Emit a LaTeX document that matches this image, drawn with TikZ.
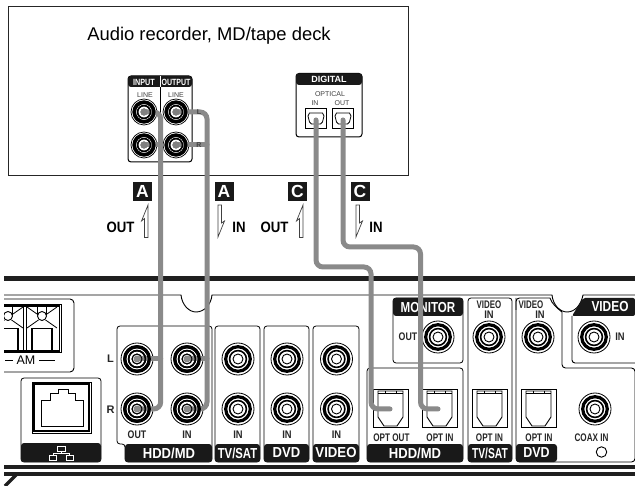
\documentclass[tikz,border=0pt]{standalone}
\usepackage{fontspec}
\setmainfont{Liberation Sans}
\definecolor{cablegrey}{HTML}{8A8A8A}
\tikzset{
  panel/.style={draw=black,line width=0.8pt,rounded corners=3pt,fill=white},
  hdr/.style={fill=black!90,draw=none},
  cable/.style={draw=cablegrey,line width=5pt,rounded corners=7pt,line cap=round},
  stub/.style={draw=cablegrey,line width=5pt,line cap=round},
  lbl/.style={font=\bfseries\fontsize{11}{11}\selectfont,inner sep=0pt,text=black!85},
  hlbl/.style={font=\bfseries\fontsize{14.5}{14.5}\selectfont,inner sep=0pt,text=white},
  tag/.style={fill=black!90,text=white,font=\bfseries\fontsize{17.5}{17.5}\selectfont,minimum width=19pt,minimum height=19pt,inner sep=0pt},
  big/.style={font=\bfseries\fontsize{15}{15}\selectfont,inner sep=0pt},
  dir/.style={draw=black!75,line width=0.7pt,fill=white,line join=miter},
  grey/.style={font=\fontsize{7}{7}\selectfont,inner sep=0pt,text=black!75},
  smh/.style={font=\bfseries\fontsize{9}{9}\selectfont,text=white,inner sep=0pt},
  thin/.style={draw=black,line width=0.9pt}
}
\newcommand{\jack}[2]{%
  \coordinate (#1) at (#2);
  \draw[fill=white,line width=0.8pt] (#1) circle (16);
  \draw[line width=3.2pt,fill=white] (#1) circle (12.3);
  \draw[line width=1.6pt,fill=white] (#1) circle (8.4);
  \draw[line width=0.9pt,fill=white] (#1) circle (5);
}
\newcommand{\jackrings}[1]{%
  \draw[line width=3.2pt] (#1) circle (12.3);
  \draw[line width=1.6pt] (#1) circle (8.4);
  \draw[line width=0.9pt] (#1) circle (5);
  \fill[cablegrey] (#1) circle (3.5);
}
\newcommand{\smjack}[2]{%
  \coordinate (#1) at (#2);
  \draw[fill=white,line width=0.7pt] (#1) circle (13);
  \draw[line width=3.4pt,fill=white] (#1) circle (9.8);
  \draw[line width=1.4pt,fill=white] (#1) circle (6.4);
  \fill[black!50] (#1) circle (3.6);
}
\newcommand{\smrings}[1]{%
  \draw[line width=3.4pt] (#1) circle (9.8);
  \draw[line width=1.4pt] (#1) circle (6.4);
  \fill[black!50] (#1) circle (3.6);
}
\newcommand{\optsock}[3]{%
  \draw[line width=0.9pt] (#2,#3) rectangle ++(35,38);
  \draw[line width=0.9pt] (#2+5,#3+2) -- ++(25,0) -- ++(0,26) -- ++(-6,9) -- ++(-13,0) -- ++(-6,-9) -- cycle;
  \draw[line width=0.9pt] (#2+5,#3+4) -- ++(25,0) (#2+12,#3+2) -- ++(0,2) (#2+23,#3+2) -- ++(0,2);
  \coordinate (#1) at (#2+17.5,#3+20);
}
\begin{document}
\begin{tikzpicture}[x=1pt,y=-1pt]
\useasboundingbox (0,0) rectangle (635,486);
% top device
\draw[line width=0.9pt,draw=black!85] (8,6) rectangle (408,175.5);
\node[inner sep=0pt,font=\fontsize{18.4}{18.4}\selectfont] (title) at (209,36) {Audio recorder, MD/tape deck};
% line panel
\draw[panel,line width=1pt] (128,76) rectangle (192,162);
\path[hdr,rounded corners=3pt] (128,87) -- (128,76) -- (192,76) -- (192,87) -- cycle;
\fill[white] (159.6,76) rectangle (161,87);
\draw[line width=1pt] (160,87) -- (160,162);
\node[smh] (inl) at (144,82) {\scalebox{0.8}[1]{INPUT}};
\node[smh] (outl) at (176,82) {\scalebox{0.78}[1]{OUTPUT}};
\node[grey] (l1) at (145,95.5) {LINE};
\node[grey] (l2) at (176,95.5) {LINE};
\smjack{il}{144,112}\smjack{ol}{176,112}\smjack{ir}{144,145}\smjack{or}{176,145}
% digital panel
\draw[panel,line width=1pt] (296,73.5) rectangle (362,137);
\path[hdr,rounded corners=3pt] (296,85) -- (296,73.5) -- (362,73.5) -- (362,85) -- cycle;
\node[smh] (dig) at (329,79.5) {DIGITAL};
\node[grey] (opt) at (330,94.5) {OPTICAL};
\node[grey] (din) at (315,103.5) {IN};
\node[grey] (dout) at (342,103.5) {OUT};
\foreach \xx in {305.5,332.5}{
  \draw[line width=1pt] (\xx,108.5) rectangle ++(21,20.5);
  \draw[line width=0.8pt] (\xx+4,113) -- ++(13,0) -- ++(1.5,3) -- ++(-1.5,6) -- ++(-2,2) -- ++(-9,0) -- ++(-2,-2) -- ++(-1.5,-6) -- cycle;
}
\coordinate (dsa) at (316,120);
\coordinate (dsb) at (343,120);
% tags and direction arrows
\node[tag] (ta) at (142.5,191.5) {A};
\node[tag] (tb) at (224,191.5) {A};
\node[tag] (tc) at (297.5,191.5) {C};
\node[tag] (td) at (360,191.5) {C};
\node[big] (o1) at (120.5,227) {\scalebox{0.88}[1]{OUT}};
\node[big] (i1) at (239,227) {\scalebox{0.88}[1]{IN}};
\node[big] (o2) at (274.5,227) {\scalebox{0.88}[1]{OUT}};
\node[big] (i2) at (376,227) {\scalebox{0.88}[1]{IN}};
\foreach \xx in {148,303}{
  \draw[dir] (\xx,205) -- (\xx,237.5) -- (\xx-3.5,237.5) -- (\xx-3.5,218.5) -- (\xx-6.5,221) -- cycle;
}
\foreach \xx in {218,356}{
  \draw[dir] (\xx,237) -- (\xx,205) -- (\xx+3.5,205) -- (\xx+3.5,223) -- (\xx+6.5,221) -- cycle;
}
% rear panel bars
\fill[black!88] (4,276.5) rectangle (635,281);
\fill[black!88] (4,465) rectangle (635,469);
\fill[black!88] (4,472) rectangle (635,475.5);
\draw[line width=3.4pt,black!88] (5,486) -- (17,474);
% rear outline with notches
\draw[thin] (4,295) -- (181,295) .. controls (182,305) and (189,312) .. (196,312) .. controls (204,312) and (211,305) .. (212,295) -- (552,295) .. controls (553,305) and (560,312) .. (567,312) .. controls (575,312) and (581,305) .. (583,295) -- (635,295);
% AM block
\draw[thin,rounded corners=4pt] (0,299) -- (74,299) -- (74,372) -- (0,372);
\draw[line width=1.6pt] (0,306) -- (59.5,306) -- (59.5,351) -- (0,351);
\draw[line width=0.8pt] (0,304) -- (61.5,304) -- (61.5,352.5) -- (0,352.5);
\draw[line width=1.6pt] (23.5,306) -- (23.5,351) (26,306) -- (26,351);
\foreach \xx in {8,42}{
  \draw[line width=0.8pt] (\xx-15,307) -- (\xx+15,328) (\xx+15,307) -- (\xx-15,328);
  \fill[white] (\xx,316) circle (5.5);
  \draw[line width=0.9pt] (\xx,316) circle (4.5);
  \draw[line width=0.9pt] (\xx-4.5,307) -- (\xx-4.5,315) (\xx+4.5,307) -- (\xx+4.5,315);
}
\fill[white] (23.9,307) rectangle (25.6,350);
\draw[line width=1.6pt] (0,328.5) -- (18,328.5) -- (18,350);
\draw[line width=1.6pt] (32,350) -- (32,328.5) -- (52,328.5) -- (52,350);
\fill[white] (-1,296) rectangle (4,374);
\node[inner sep=0pt,font=\fontsize{12.5}{12.5}\selectfont] (am) at (26,360) {AM};
\draw[line width=0.8pt] (5,360) -- (13,360) (39,360) -- (55,360);
% LAN block
\draw[panel] (21,378) rectangle (101,462);
\path[hdr,rounded corners=3pt] (21,443) -- (101,443) -- (101,462) -- (21,462) -- cycle;
\draw[line width=0.9pt] (32,382) rectangle (91,433);
\draw[line width=1.6pt] (34,384) rectangle (89,431);
\draw[line width=0.9pt] (41,426) -- (41,400) -- (50,400) -- (50,393) -- (58,393) -- (58,389) -- (68,389) -- (68,393) -- (75,393) -- (75,400) -- (83,400) -- (83,426) -- cycle;
\draw[white,line width=0.9pt] (57.5,446) rectangle (65,451) (61,451) -- (61,453.5) (53,453.5) -- (69.5,453.5) (53,453.5) -- (53,455) (69.5,453.5) -- (69.5,455) (49,455) rectangle (56,460) (66,455) rectangle (73,460);
% HDD/MD analog
\draw[panel] (117,326) -- (117,444) -- (125,444) -- (125,462) -- (212,462) -- (212,326) -- cycle;
\path[hdr,rounded corners=3pt] (125,444) -- (212,444) -- (212,462) -- (125,462) -- cycle;
\node[hlbl] (h1) at (169,453) {\scalebox{0.9}[1]{HDD/MD}};
\jack{al}{137,359}\jack{bl}{187,359}\jack{ar}{137,409}\jack{br}{187,409}
\node[lbl] (ll) at (110.5,359) {L};
\node[lbl] (rl) at (110.5,410) {R};
\node[lbl] (aout) at (137,435) {\scalebox{0.8}[1]{OUT}};
\node[lbl] (ain) at (187,435) {\scalebox{0.85}[1]{IN}};
% three analog columns
\foreach \xa/\xb/\lab/\sc/\nm in {215/260/TV\slash SAT/0.78/tv,264/309/DVD/0.9/dv,313/359/VIDEO/0.91/vi}{
  \draw[panel] (\xa,326) rectangle (\xb,462);
  \path[hdr,rounded corners=3pt] (\xa,444) -- (\xb,444) -- (\xb,462) -- (\xa,462) -- cycle;
  \node[hlbl] (hd\nm) at ({(\xa+\xb)/2},453) {\scalebox{\sc}[1]{\lab}};
  \node[lbl] (in\nm) at ({(\xa+\xb)/2+0.5},435) {\scalebox{0.85}[1]{IN}};
  \jack{up\nm}{{(\xa+\xb)/2+0.5},359}
  \jack{lo\nm}{{(\xa+\xb)/2+0.5},409}
}
% monitor
\draw[panel] (393,298) rectangle (463,363);
\path[hdr,rounded corners=3pt] (393,316) -- (393,298) -- (463,298) -- (463,316) -- cycle;
\node[hlbl] (mon) at (428,307.5) {\scalebox{0.8}[1]{MONITOR}};
\node[lbl] (mo) at (408,337) {\scalebox{0.8}[1]{OUT}};
\jack{mj}{438,337}
% HDD/MD optical
\draw[panel] (367,368) rectangle (463,462);
\path[hdr,rounded corners=3pt] (367,444) -- (463,444) -- (463,462) -- (367,462) -- cycle;
\node[hlbl] (h2) at (415,453) {\scalebox{0.9}[1]{HDD/MD}};
\optsock{sa}{373}{389}
\optsock{sb}{422}{389}
\node[lbl] (oo) at (391.5,438) {\scalebox{0.74}[1]{OPT OUT}};
\node[lbl] (oi) at (440,438) {\scalebox{0.74}[1]{OPT IN}};
% TV/SAT
\draw[panel] (468,298) rectangle (512,462);
\path[hdr,rounded corners=3pt] (468,444) -- (512,444) -- (512,462) -- (468,462) -- cycle;
\node[hlbl] (h3) at (490,453) {\scalebox{0.71}[1]{TV/SAT}};
\node[lbl] (v1) at (489,304.5) {\scalebox{0.72}[1]{VIDEO}};
\node[lbl] (v1i) at (489,315) {\scalebox{0.85}[1]{IN}};
\jack{vj}{489,337}
\optsock{sc}{472}{389}
\node[lbl] (o3) at (489.5,438) {\scalebox{0.74}[1]{OPT IN}};
% DVD / coax outline
\draw[thin,rounded corners=3.5pt] (516,298) -- (516,462) -- (635,462) -- (635,368) -- (562,368) -- (562,312);
\draw[thin,rounded corners=3.5pt] (516,310) -- (516,298) -- (550,298);
\draw[thin] (550,298) .. controls (552,304) and (557,308) .. (562,312);
\path[hdr,rounded corners=3pt] (516,444) -- (557,444) -- (557,462) -- (516,462) -- cycle;
\node[hlbl] (h4) at (536.5,453) {\scalebox{0.86}[1]{DVD}};
\node[lbl] (v2) at (531,304.5) {\scalebox{0.72}[1]{VIDEO}};
\node[lbl] (v2i) at (540,315) {\scalebox{0.85}[1]{IN}};
\jack{wj}{538,337}
\optsock{sd}{521}{389}
\node[lbl] (o4) at (539,438) {\scalebox{0.74}[1]{OPT IN}};
\jack{cj}{595,409}
\node[lbl] (ci) at (591.5,438) {\scalebox{0.74}[1]{COAX IN}};
\node[draw,circle,line width=0.9pt,minimum size=10.5pt,inner sep=0pt] (led) at (601.5,452) {};
% VIDEO in
\draw[thin,rounded corners=3pt] (572,316) -- (572,363) -- (636,363);
\path[hdr,rounded corners=2pt] (583,298) -- (635,298) -- (635,316) -- (572,316) -- cycle;
\node[hlbl] (vv) at (610,306.5) {\scalebox{0.82}[1]{VIDEO}};
\jack{xj}{594,337}
\node[lbl] (xi) at (620,337) {\scalebox{0.85}[1]{IN}};
% cables
\coordinate (ca) at (390,409);
\coordinate (cb) at (438,409);
\draw[cable] (il) -- (160.7,112) -- (160.7,409) -- (ar);
\draw[stub] (ir) -- (160.7,145);
\draw[stub] (al) -- (160.7,359);
\draw[cable] (ol) -- (207,112) -- (207,409) -- (br);
\draw[stub] (or) -- (207,145);
\draw[stub] (bl) -- (207,359);
\draw[cable] (dsa) -- (316,267) -- (371,267) -- (371,409) -- (ca);
\draw[cable] (dsb) -- (343,247) -- (420.5,247) -- (420.5,409) -- (cb);
% rings stay visible over the plugged cables
\smrings{il}\smrings{ol}\smrings{ir}\smrings{or}
\jackrings{al}\jackrings{bl}\jackrings{ar}\jackrings{br}
% channel marks printed on the cable
\node[grey,font=\bfseries\fontsize{7}{7}\selectfont] (tl) at (199,112) {L};
\node[grey,font=\bfseries\fontsize{7}{7}\selectfont] (tr) at (199,145) {R};
\end{tikzpicture}
\end{document}
